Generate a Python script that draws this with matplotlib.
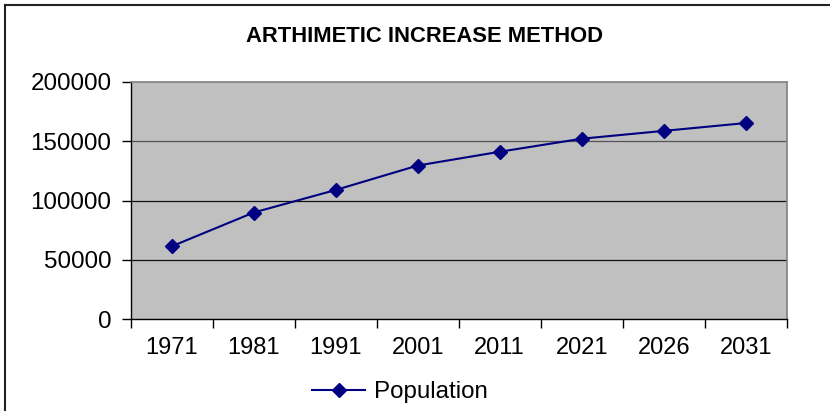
import matplotlib
matplotlib.use("Agg")
import matplotlib.pyplot as plt
from matplotlib.lines import Line2D

years = ["1971", "1981", "1991", "2001", "2011", "2021", "2026", "2031"]
population = [61500, 90000, 109000, 129600, 141200, 152200, 158800, 165400]
y_ticks = [0, 50000, 100000, 150000, 200000]
title = "ARTHIMETIC INCREASE METHOD"
series_name = "Population"

plt.rcParams["font.family"] = ["Liberation Sans", "DejaVu Sans"]

W, H = 830, 411
fig = plt.figure(figsize=(W / 100, H / 100), dpi=100)
fig.patch.set_facecolor("white")

ax = fig.add_axes([130.7 / W, 1 - 319.3 / H, (786.7 - 130.7) / W, (319.3 - 82) / H])
ax.set_facecolor("#C0C0C0")

x = list(range(len(years)))
line, = ax.plot(x, population, color="#000080", linewidth=1.5,
                marker="D", markersize=7, markerfacecolor="#000080",
                markeredgecolor="#000080", zorder=3, label=series_name)

ax.set_xlim(-0.5, len(years) - 0.5)
ax.set_ylim(y_ticks[0], y_ticks[-1])
ax.set_yticks(y_ticks)
ax.set_yticklabels([str(v) for v in y_ticks])
ax.set_xticks([i - 0.5 for i in range(len(years) + 1)], minor=False)
ax.set_xticklabels([""] * (len(years) + 1))
ax.set_xticks(x, minor=True)
ax.set_xticklabels(years, minor=True)

ax.tick_params(axis="x", which="major", direction="out", length=6.5, width=1, color="black")
ax.tick_params(axis="x", which="minor", length=0, pad=12.5, labelsize=17)
ax.tick_params(axis="y", direction="out", length=6.5, width=1, pad=7.5, labelsize=17.4)

# horizontal gridlines
for v in y_ticks[1:-1]:
    ax.axhline(v, color="#111111" if v < 150000 else "#555555", linewidth=0.9, zorder=1)

for side in ("left", "bottom"):
    ax.spines[side].set_color("black")
    ax.spines[side].set_linewidth(1.0)
for side in ("top", "right"):
    ax.spines[side].set_color("#808080")
    ax.spines[side].set_linewidth(1.2)

fig.text(424 / W, 1 - 37 / H, title, ha="center", va="center",
         fontsize=15.8, fontweight="bold")

leg = fig.legend(handles=[line], loc="center", bbox_to_anchor=(400 / W, 1 - 392 / H),
                 frameon=False, fontsize=17.4, handlelength=2.2, handletextpad=0.35,
                 markerscale=1.0)

# chart frame
fig.add_artist(Line2D([4.5 / W, 1.0], [1 - 5.5 / H, 1 - 5.5 / H],
                      color="#222222", linewidth=1.5))
fig.add_artist(Line2D([4.5 / W, 4.5 / W], [0.0, 1 - 5.5 / H],
                      color="#222222", linewidth=1.5))

fig.savefig("out.png", dpi=100)
